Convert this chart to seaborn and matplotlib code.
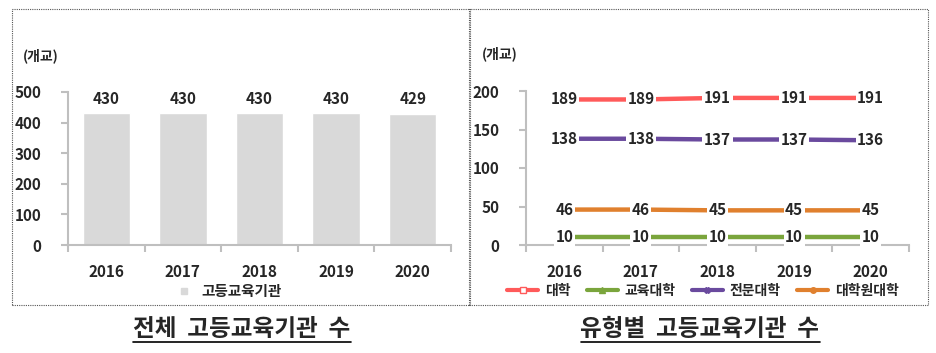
import numpy as np
import pandas as pd
import seaborn as sns
import matplotlib
matplotlib.use('Agg')
import matplotlib.pyplot as plt
from matplotlib.patches import Rectangle
from matplotlib.lines import Line2D

years = ['2016', '2017', '2018', '2019', '2020']
total = [430, 430, 430, 430, 429]

univ = [189, 189, 191, 191, 191]
edu_univ = [10, 10, 10, 10, 10]
college = [138, 138, 137, 137, 136]
grad_univ = [46, 46, 45, 45, 45]

types = ['대학', '교육대학', '전문대학', '대학원대학']
colors = ['#ff5a5a', '#7aa53c', '#6a4a9e', '#e0802e']
markers = ['s', '^', 'X', 'o']

sns.set_style('white')
plt.rcParams['font.family'] = ['Noto Sans CJK KR', 'DejaVu Sans']
plt.rcParams['font.weight'] = 'bold'

W, H = 936, 353
fig = plt.figure(figsize=(W / 100, H / 100), dpi=100)


def fx(px):
    return px / W


def fy(py):
    return 1 - py / H


# dotted boxes
for x0, x1 in [(12, 470), (469, 928)]:
    fig.patches.append(Rectangle((fx(x0), fy(305)), fx(x1 - x0), (305 - 9) / H,
                                 transform=fig.transFigure, fill=False,
                                 edgecolor='#555555', lw=0.8, ls=(0, (1, 1))))

axis_col = '#bfbfbf'


def style_axis(ax):
    sns.despine(ax=ax)
    for s in ['left', 'bottom']:
        ax.spines[s].set_color(axis_col)
        ax.spines[s].set_linewidth(1.5)
    ax.set_xlim(-0.5, 4.5)
    ax.set_xticks(range(5))
    ax.set_xticklabels(years)
    ax.set_xticks(np.arange(-0.5, 5, 1), minor=True)
    ax.tick_params(axis='x', which='both', bottom=True)
    ax.tick_params(axis='x', which='major', length=0, pad=14, labelsize=11)
    ax.tick_params(axis='x', which='minor', length=5, color=axis_col, width=1.5, direction='out')
    ax.tick_params(axis='y', left=True, length=5, color=axis_col, width=1.5, direction='out',
                   pad=14, labelsize=11)
    ax.set_xlabel('')
    ax.set_ylabel('')
    for t in ax.get_xticklabels() + ax.get_yticklabels():
        t.set_fontweight('bold')
    ax.grid(False)


# left: total bar chart
ax1 = fig.add_axes([fx(68), fy(245), fx(383), 153 / H])
df1 = pd.DataFrame({'year': years, 'count': total})
sns.barplot(data=df1, x='year', y='count', color='#d9d9d9', width=0.62,
            saturation=1, ax=ax1)
ax1.set_ylim(0, 500)
ax1.set_yticks(range(0, 501, 100))
style_axis(ax1)
for i, v in enumerate(total):
    ax1.text(i, v + 22, str(v), ha='center', va='bottom', fontsize=11, fontweight='bold')
fig.text(fx(23), fy(56), '(개교)', fontsize=10, fontweight='bold', va='center')
fig.legend(handles=[Line2D([0], [0], marker='s', color='none', markerfacecolor='#d9d9d9',
                           markeredgecolor='#d9d9d9', markersize=4)],
           labels=['고등교육기관'], loc='center', bbox_to_anchor=(fx(228), fy(291)),
           frameon=False, fontsize=10.5, handlelength=1.2, handletextpad=0.6)

# right: line chart by type
ax2 = fig.add_axes([fx(526), fy(245), fx(383), 154 / H])
df2 = pd.DataFrame({
    'year': years * 4,
    'type': np.repeat(types, 5),
    'count': univ + edu_univ + college + grad_univ,
})
df2['pos'] = df2['year'].map({y: i for i, y in enumerate(years)})
sns.lineplot(data=df2, x='pos', y='count', hue='type', hue_order=types,
             palette=colors, style='type', markers=dict(zip(types, markers)),
             dashes=False, linewidth=3.2, markersize=5, legend=False, ax=ax2)
ax2.set_ylim(0, 200)
ax2.set_yticks(range(0, 201, 50))
style_axis(ax2)
for series in [univ, edu_univ, college, grad_univ]:
    for i, v in enumerate(series):
        ax2.text(i, v, str(v), ha='center', va='center', fontsize=11,
                 fontweight='bold', zorder=5,
                 bbox=dict(boxstyle='square,pad=0.1', fc='white', ec='none'))
fig.text(fx(482), fy(54), '(개교)', fontsize=10, fontweight='bold', va='center')

handles = []
for c, m, t in zip(colors, markers, types):
    handles.append(Line2D([0], [0], color=c, lw=3, marker=m, markersize=4,
                          markerfacecolor='white' if t == '대학' else c,
                          markeredgecolor=c))
fig.legend(handles=handles, labels=types, loc='center', ncol=4,
           bbox_to_anchor=(fx(703), fy(291)), frameon=False, fontsize=10,
           handlelength=2.2, handletextpad=0.5, columnspacing=1.2)

# underlined titles
for cx, title in [(242, '전체  고등교육기관  수'), (700, '유형별  고등교육기관  수')]:
    t = fig.text(fx(cx), fy(329), title, ha='center', va='center', fontsize=17,
                 fontweight='bold')
    fig.canvas.draw()
    bb = t.get_window_extent()
    fig.add_artist(Line2D([bb.x0 / W, bb.x1 / W], [fy(342), fy(342)],
                          transform=fig.transFigure, color='black', lw=1.2))

fig.savefig('out.png', dpi=100)
